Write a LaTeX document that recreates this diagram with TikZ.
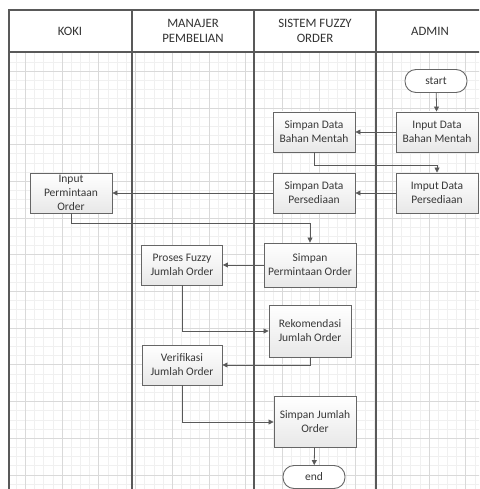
\documentclass[tikz,border=0pt]{standalone}
\usepackage{fontspec}
\setmainfont{Carlito}
\usetikzlibrary{arrows.meta,positioning}

\begin{document}
\begin{tikzpicture}[x=1pt, y=-1pt, >={Triangle[length=5pt,width=5pt]},
    minorgrid/.style={draw=black!6, line width=0.5pt},
    majorgrid/.style={draw=black!15, line width=0.5pt},
    lane/.style={draw=black!65, line width=1.3pt},
    head/.style={align=center, font=\fontsize{12.8}{15.5}\selectfont, text=black!80},
    block/.style={rectangle, draw=black!60, line width=0.9pt, top color=white, bottom color=black!9, align=center, minimum width=82pt, minimum height=40pt, font=\fontsize{11.5}{14}\selectfont, text=black!78, inner sep=2pt},
    term/.style={rectangle, rounded corners=11pt, draw=black!60, line width=0.9pt, fill=white, minimum width=62pt, minimum height=23pt, font=\fontsize{11.5}{14}\selectfont, text=black!78},
    line/.style={draw=black!65, line width=0.8pt, ->}]

    \useasboundingbox (0,0) rectangle (479,489);
    \clip (0,0) rectangle (479,489);

    % grid
    \foreach \i in {-5,...,45} \draw [minorgrid] ({62+9.175*\i},52) -- ({62+9.175*\i},489);
    \foreach \j in {-30,...,17} \draw [minorgrid] (9,{328+9.175*\j}) -- (484,{328+9.175*\j});
    \foreach \i in {-1,...,11} \draw [majorgrid] ({62+36.7*\i},52) -- ({62+36.7*\i},489);
    \foreach \j in {-7,...,4} \draw [majorgrid] (9,{328+36.7*\j}) -- (484,{328+36.7*\j});

    % lanes
    \fill [white] (9,10) rectangle (484,52);
    \draw [lane] (9,489) -- (9,10) -- (484,10);
    \draw [lane] (9,52) -- (484,52);
    \draw [lane] (132,10) -- (132,489);
    \draw [lane] (254,10) -- (254,489);
    \draw [lane] (376,10) -- (376,489);

    \node [head] (h1) at (70,31) {KOKI};
    \node [head] (h2) at (193,31) {MANAJER\\PEMBELIAN};
    \node [head] (h3) at (315,31) {SISTEM FUZZY\\ORDER};
    \node [head] (h4) at (430,31) {ADMIN};

    % nodes
    \node [term] (start) at (436,81) {start};
    \node [block] (in1) at (437,132) {Input Data\\Bahan Mentah};
    \node [block] (sp1) at (314,132) {Simpan Data\\Bahan Mentah};
    \node [block] (in2) at (437,193) {Imput Data\\Persediaan};
    \node [block] (sp2) at (314,193) {Simpan Data\\Persediaan};
    \node [block] (koki) at (71,193) {Input\\Permintaan\\Order};
    \node [block, minimum width=92pt, minimum height=44pt] (sp3) at (310,265) {Simpan\\Permintaan Order};
    \node [block, minimum width=81pt] (fz) at (182,265) {Proses Fuzzy\\Jumlah Order};
    \node [block, minimum height=52pt] (rek) at (310,331) {Rekomendasi\\Jumlah Order};
    \node [block, minimum width=80pt] (ver) at (182,365) {Verifikasi\\Jumlah Order};
    \node [block, minimum height=51pt] (sp4) at (315,422) {Simpan Jumlah\\Order};
    \node [term] (end) at (314,477) {end};

    % connectors
    \path [line] (start) -- (in1);
    \path [line] (in1) -- (sp1);
    \path [line] (sp1.south) -- ++(0,13) -| (in2.north);
    \path [line] (in2) -- (sp2);
    \path [line] (sp2) -- (koki);
    \path [line] (koki.south) -- ++(0,10) -| (sp3.north);
    \path [line] (sp3) -- (fz);
    \path [line] (fz.south) |- (rek.west);
    \path [line] (rek.south) |- (ver.east);
    \path [line] (ver.south) |- (sp4.west);
    \path [line] (sp4) -- (end);
\end{tikzpicture}
\end{document}
